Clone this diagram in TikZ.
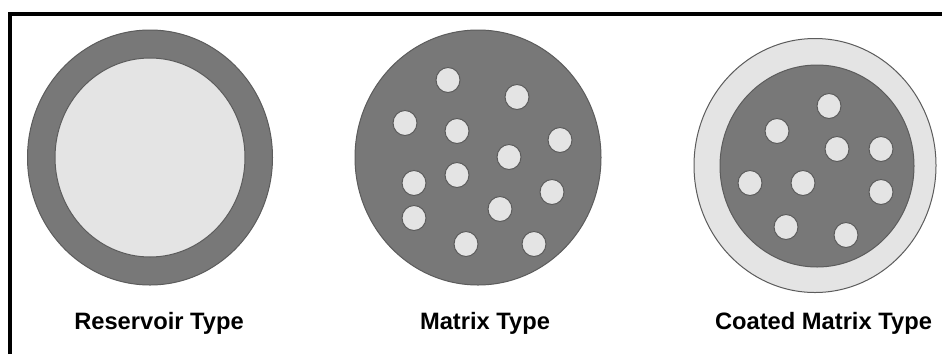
\documentclass[tikz,border=0pt]{standalone}
\usepackage{fontspec}
\setmainfont{Liberation Sans}
\begin{document}
\begin{tikzpicture}[x=1pt,y=-1pt,
  dark/.style={fill=matgray,draw=edgegray,line width=1pt},
  light/.style={fill=lightgray2,draw=edgegray,line width=1pt},
  lbl/.style={font=\fontsize{23.7}{26}\selectfont\bfseries,anchor=base,inner sep=0pt}]
\definecolor{matgray}{HTML}{787878}
\definecolor{lightgray2}{HTML}{E4E4E4}
\definecolor{edgegray}{HTML}{5C5C5C}
\useasboundingbox (0,0) rectangle (942,354);
\fill[white] (0,0) rectangle (942,354);
% frame
\draw[line width=4pt] (9.8,354) -- (9.8,14) -- (942,14);
% reservoir
\draw[dark] (150,157.5) ellipse [x radius=122.5,y radius=127.5];
\draw[light] (150,157.5) ellipse [x radius=95,y radius=99.5];
% matrix
\draw[dark] (478,157.5) ellipse [x radius=123,y radius=127.5];
\foreach \px/\py in {448/80,517/97,405/123,457/131,560/140,509/157,457/175,414/183,552/192,500/209,414/218,466/244,534/244}
  \draw[light] (\px,\py) ellipse [x radius=12,y radius=12.5];
% coated matrix
\draw[light] (815,165.5) ellipse [x radius=121,y radius=127];
\draw[dark] (817,166) ellipse [x radius=97,y radius=101];
\foreach \px/\py in {829/106,777/131,837/149,881/149,750/183,803/183,881/192,786/227,846/235}
  \draw[light] (\px,\py) ellipse [x radius=12,y radius=12.5];
% labels
\node[lbl] (res) at (159,329) {Reservoir Type};
\node[lbl] (mat) at (485,329) {Matrix Type};
\node[lbl] (coat) at (823.5,329) {Coated Matrix Type};
\end{tikzpicture}
\end{document}
